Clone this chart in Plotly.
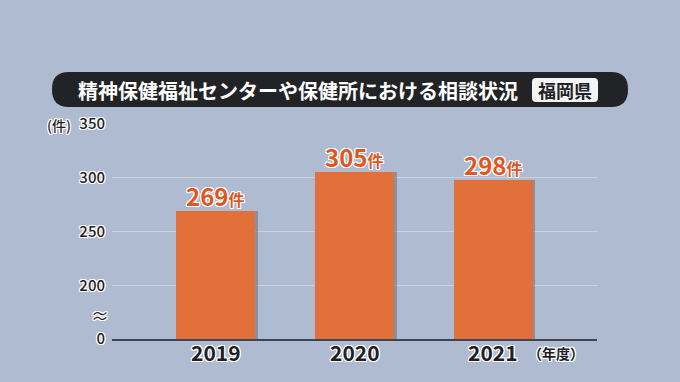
import plotly.graph_objects as go

categories = ["2019", "2020", "2021"]
values = [269, 305, 298]
tick_vals = [150, 200, 250, 300, 350]
tick_text = ["0", "200", "250", "300", "350"]
title_text = "精神保健福祉センターや保健所における相談状況"
region_text = "福岡県"
unit_y = "(件)"
unit_x = "（年度）"

W, H = 680, 382
PL, PR, PT, PB = 112, 83, 124, 43
PW, PH = W - PL - PR, H - PT - PB

def xp(px):
    return (px - PL) / PW

def yp(py):
    return (PT + PH - py) / PH

def rounded_path(x0, y0, x1, y1, r):
    pts = [
        f"M{xp(x0 + r)},{yp(y0)}",
        f"L{xp(x1 - r)},{yp(y0)}",
        f"Q{xp(x1)},{yp(y0)} {xp(x1)},{yp(y0 + r)}",
        f"L{xp(x1)},{yp(y1 - r)}",
        f"Q{xp(x1)},{yp(y1)} {xp(x1 - r)},{yp(y1)}",
        f"L{xp(x0 + r)},{yp(y1)}",
        f"Q{xp(x0)},{yp(y1)} {xp(x0)},{yp(y1 - r)}",
        f"L{xp(x0)},{yp(y0 + r)}",
        f"Q{xp(x0)},{yp(y0)} {xp(x0 + r)},{yp(y0)}",
        "Z",
    ]
    return " ".join(pts)

FONT = "Noto Sans CJK JP"
OUT_W = "-1px -1px 0 #fff, 1px -1px 0 #fff, -1px 1px 0 #fff, 1px 1px 0 #fff, 0 1px 0 #fff, 0 -1px 0 #fff, 1px 0 0 #fff, -1px 0 0 #fff"
BAR_COLOR = "#e2703a"
LABEL_COLOR = "#e0561e"
BG = "#aebbd0"
DARK = "#1e1e24"

bw = 0.57
labels = [f"{v}<span style='font-size:16px'>件</span>" for v in values]

fig = go.Figure()
fig.add_trace(go.Bar(
    x=[0, 1, 2], y=values, width=bw, offset=-bw / 2 + 0.02,
    marker=dict(color="rgba(90,90,100,0.45)", line=dict(width=0)),
    hoverinfo="skip", showlegend=False,
))
fig.add_trace(go.Bar(
    x=[0, 1, 2], y=values, width=bw, offset=-bw / 2,
    marker=dict(color=BAR_COLOR, line=dict(width=0)),
    showlegend=False,
))

annotations = [
    dict(text=title_text, xref="paper", yref="paper", x=xp(298), y=yp(90),
         showarrow=False, xanchor="center", yanchor="middle",
         font=dict(family=FONT, size=20, color="#ffffff", weight="bold")),
    dict(text=region_text, xref="paper", yref="paper", x=xp(565), y=yp(90),
         showarrow=False, xanchor="center", yanchor="middle",
         font=dict(family=FONT, size=18, color="#222326", weight="bold")),
    dict(text=unit_y, xref="paper", yref="paper", x=xp(59), y=yp(125),
         showarrow=False, xanchor="center", yanchor="middle",
         font=dict(family=FONT, size=14, color=DARK, weight=500, shadow=OUT_W)),
    dict(text="≈", xref="paper", yref="paper", x=xp(100), y=yp(315),
         showarrow=False, xanchor="center", yanchor="middle",
         font=dict(family=FONT, size=18, color=DARK, shadow=OUT_W)),
    dict(text=unit_x, xref="paper", yref="paper", x=xp(556), y=yp(353),
         showarrow=False, xanchor="center", yanchor="middle",
         font=dict(family=FONT, size=14, color=DARK, weight="bold", shadow=OUT_W)),
]
for i, c in enumerate(categories):
    annotations.append(dict(
        text=c, xref="x", yref="paper", x=i, y=yp(352),
        showarrow=False, xanchor="center", yanchor="middle",
        font=dict(family=FONT, size=21, color=DARK, weight="bold", shadow=OUT_W)))
for i, (v, lab) in enumerate(zip(values, labels)):
    annotations.append(dict(
        text=lab, xref="x", yref="y", x=i, y=v, yshift=-4,
        showarrow=False, xanchor="center", yanchor="bottom",
        font=dict(family=FONT, size=24, color=LABEL_COLOR, weight="bold", shadow=OUT_W)))

fig.update_layout(
    width=W, height=H,
    margin=dict(l=PL, r=PR, t=PT, b=PB, pad=0),
    paper_bgcolor=BG, plot_bgcolor=BG,
    barmode="overlay", bargap=0,
    font=dict(family=FONT),
    xaxis=dict(
        range=[-0.75, 2.75], tickvals=[0, 1, 2], showticklabels=False,
        showgrid=False, zeroline=False, showline=True, linecolor="#3d4452", linewidth=1.5,
        ticks="",
    ),
    yaxis=dict(
        range=[150, 350], tickvals=tick_vals, ticktext=tick_text,
        showgrid=True, gridcolor="#c9d2df", gridwidth=1, zeroline=False, showline=False,
        ticks="", ticklabelstandoff=6,
        tickfont=dict(family=FONT, size=15, color=DARK, weight=500, shadow=OUT_W),
    ),
    shapes=[
        dict(type="path", xref="paper", yref="paper", path=rounded_path(52, 72, 628, 107, 17),
             fillcolor="#222326", line=dict(width=0), layer="above"),
        dict(type="path", xref="paper", yref="paper", path=rounded_path(532, 78, 598, 102, 4),
             fillcolor="#f4f4f4", line=dict(width=0), layer="above"),
    ],
    annotations=annotations,
)

fig.write_html("out.html", config={"displayModeBar": False},
               post_script="document.body.style.margin='0';document.body.style.padding='0';")
